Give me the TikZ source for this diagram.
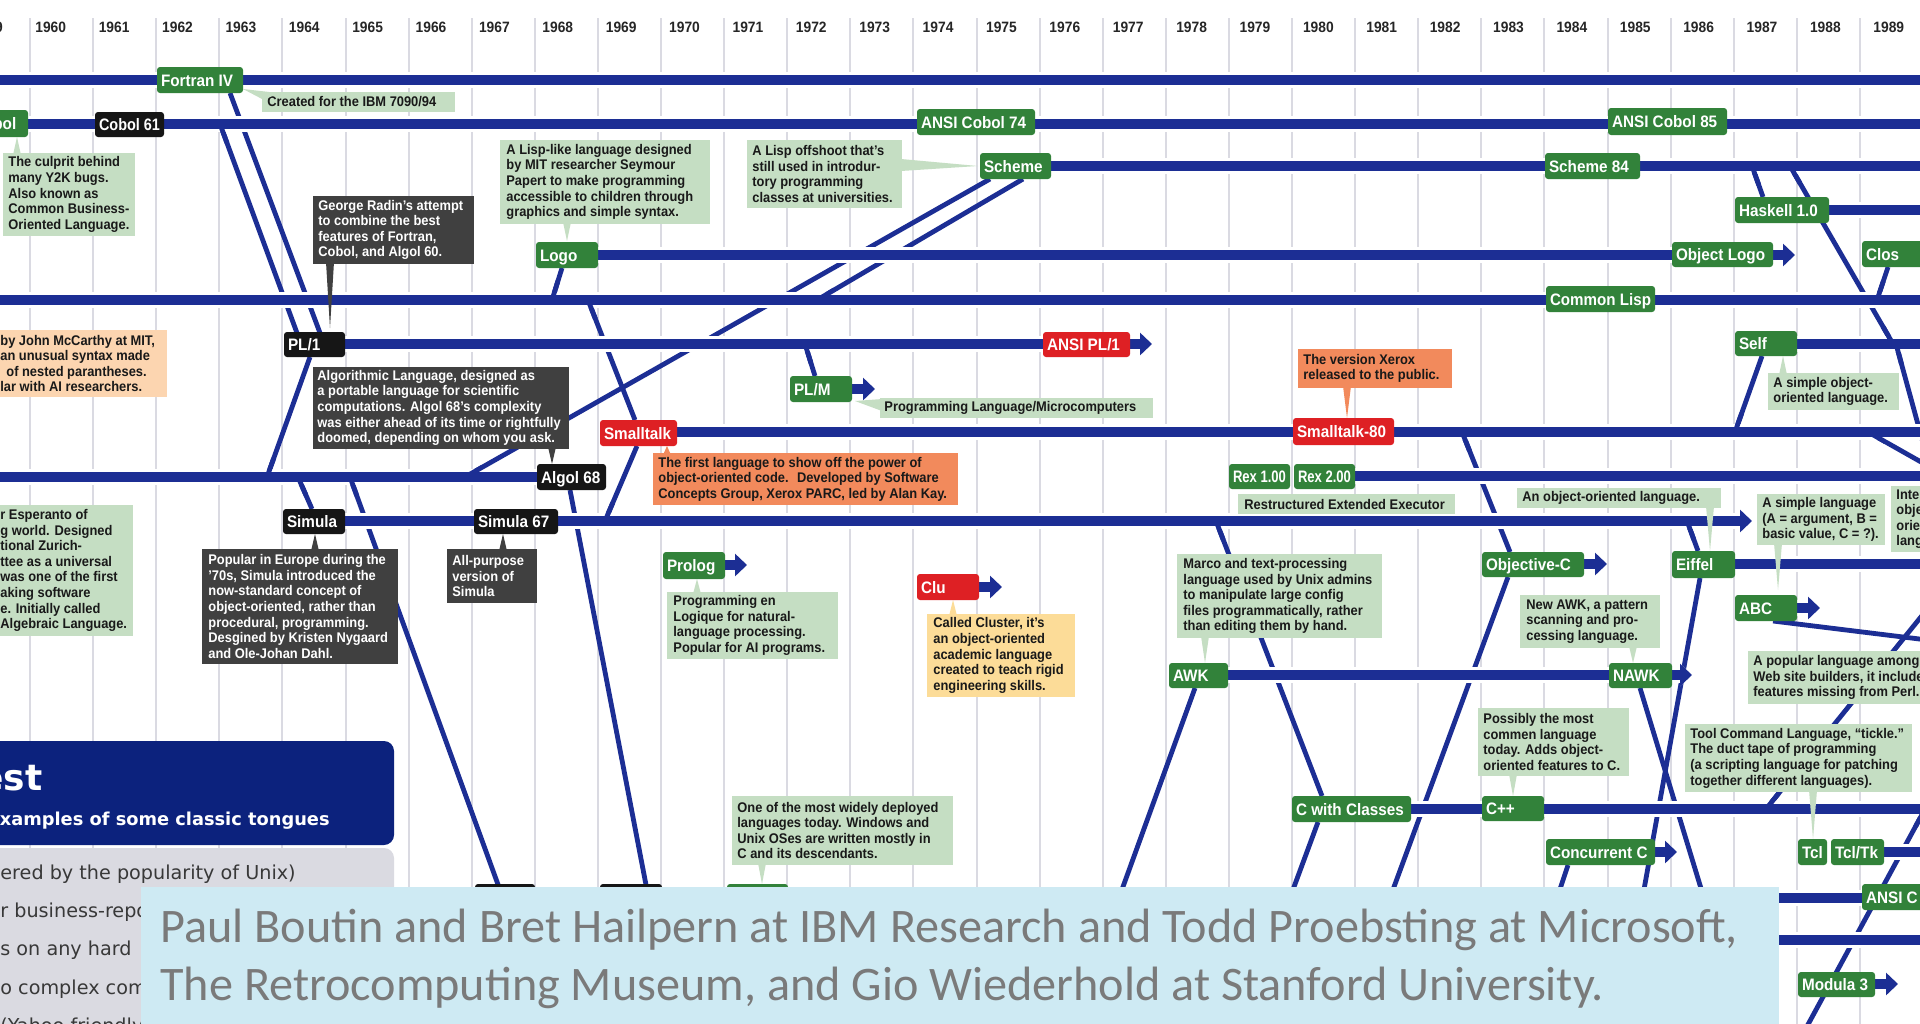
\documentclass[tikz,border=0pt]{standalone}
\usepackage{fontspec}
\setmainfont{Liberation Sans}
\newfontfamily\cond[FakeStretch=0.92]{Liberation Sans}
\newfontfamily\djv{DejaVu Sans}
\newfontfamily\capf{Carlito}
\usetikzlibrary{arrows.meta,calc}

\definecolor{lnc}{RGB}{28,46,148}
\definecolor{gbc}{RGB}{50,130,58}
\definecolor{kbc}{RGB}{22,22,22}
\definecolor{rbc}{RGB}{222,32,36}
\definecolor{ngc}{RGB}{197,222,195}
\definecolor{ndc}{RGB}{64,64,64}
\definecolor{noc}{RGB}{242,138,92}
\definecolor{npc}{RGB}{252,213,176}
\definecolor{nyc}{RGB}{252,220,152}
\definecolor{gridc}{RGB}{218,218,226}
\definecolor{capc}{RGB}{206,234,243}
\definecolor{captc}{RGB}{122,122,122}
\definecolor{ttlc}{RGB}{12,34,125}
\definecolor{panc}{RGB}{218,218,225}

\newcommand\lblf{\cond\bfseries\fontsize{8.3}{9}\selectfont}
\newcommand\ntf{\cond\bfseries\fontsize{7}{7.8}\selectfont}
\newcommand\yrf{\cond\bfseries\fontsize{7.5}{8}\selectfont}

% label box: style, name, x1, y1, x2, y2, text
\newcommand\LB[7]{%
 \pgfmathsetmacro\zzw{(#5-(#3))/2}%
 \pgfmathsetmacro\zzh{(#6-(#4))/2}%
 \pgfmathsetmacro\zzt{(#5-(#3)-8)/2}%
 \pgfmathsetmacro\zzx{(#3+#5)/2}%
 \pgfmathsetmacro\zzy{(#4+#6)/2}%
 \node[#1, minimum width=\zzw pt, minimum height=\zzh pt] (#2) at (\zzx,\zzy)
 {\sbox0{#7}\ifdim\wd0>\zzt pt\relax\resizebox{\zzt pt}{\height}{\usebox0}\else\makebox[\zzt pt][l]{\usebox0}\fi};}
% note: style, name, x1, y1, x2, y2, text x, text
\newcommand\NB[8]{%
 \pgfmathsetmacro\zzw{(#5-(#3))/2}%
 \pgfmathsetmacro\zzh{(#6-(#4))/2}%
 \pgfmathsetmacro\zzx{(#3+#5)/2}%
 \pgfmathsetmacro\zzy{(#4+#6)/2}%
 \node[#1, minimum width=\zzw pt, minimum height=\zzh pt] (#2) at (\zzx,\zzy) {};
 \node[#1 text, anchor=west, align=left, font=\ntf] (#2-t) at (#7,\zzy) {#8};}
% vertical pointer: colour, x, base y, tip y
\newcommand\VP[4]{\fill[#1] (#2-4,#3) -- (#2+4,#3) -- (#2,#4) -- cycle;}

\tikzset{
  every node/.style={inner sep=0pt},
  gridl/.style={draw=gridc, line width=1pt},
  yr/.style={font=\yrf, text=black!85, anchor=west},
  rowl/.style={draw=lnc, line width=5pt, preaction={draw=white, line width=8pt}},
  rowa/.style={rowl, -{Triangle[width=11pt,length=6pt]}},
  diag/.style={draw=lnc, line width=2.4pt},
  gb/.style={fill=gbc, text=white, font=\lblf, rounded corners=1.5pt, inner xsep=2pt, inner ysep=0pt, text height=6pt, text depth=0pt},
  kb/.style={gb, fill=kbc},
  rb/.style={gb, fill=rbc},
  ng/.style={fill=ngc}, ng text/.style={text=black!90},
  nd/.style={fill=ndc}, nd text/.style={text=white},
  no/.style={fill=noc}, no text/.style={text=black!90},
  np/.style={fill=npc}, np text/.style={text=black!90},
  ny/.style={fill=nyc}, ny text/.style={text=black!90},
  capt/.style={anchor=base west, font=\capf\fontsize{24.1}{28}\selectfont, text=captc},
  pant/.style={anchor=base west, font=\djv\fontsize{9.6}{11}\selectfont, text=black!78}
}

\begin{document}
\begin{tikzpicture}[x=0.5pt,y=-0.5pt]
\useasboundingbox (0,0) rectangle (1920,1023);
\clip (0,0) rectangle (1920,1023);
\fill[white] (0,0) rectangle (1920,1023);

% ---- year grid
\foreach \k in {-1,...,29}{
  \pgfmathsetmacro\gx{30+63.1*\k}
  \pgfmathsetmacro\lx{35+63.38*\k}
  \pgfmathtruncatemacro\yr{1960+\k}
  \coordinate (g\yr-top) at (\gx,18);
  \coordinate (g\yr-bot) at (\gx,1030);
  \draw[gridl] (g\yr-top) -- (g\yr-bot);
  \node[yr] (y\yr) at (\lx,27) {\yr};
}

% ---- diagonal connectors
\foreach \n/\xa/\ya/\xb/\yb in {
  d1/230/93/320/333, d2/220/124/297/333, d3/267/477/310/357, d4/298/477/312/509,
  d5/350/477/500/890, d6/570/490/647/890, d7/465/477/990/179, d8/817/300/1023/179,
  d9/552/300/562/268, d10/588/300/635/420, d11/605/521/637/446, d12/805/344/815/376,
  d13/1216/521/1322/796, d14/1120/895/1195/688, d15/1291/895/1318/822, d16/1508/577/1391/895,
  d17/1462/432/1510/552, d18/1735/432/1762/356, d19/1868/432/1960/484, d20/1752/166/1763/197,
  d21/1790/166/1893/344, d22/1888/267/1877/300, d23/1687/521/1698/551, d24/1700/578/1643/895,
  d25/1640/688/1703/895, d26/1773/621/1960/644, d27/1766/809/1941/592, d28/1925/809/1805/1030,
  d29/1558/895/1568/865, d30/1896/344/1940/505}
{
  \coordinate (\n-a) at (\xa,\ya);
  \coordinate (\n-b) at (\xb,\yb);
  \draw[diag] (\n-a) -- (\n-b);
}

% ---- rows (language lines)
\foreach \n/\xa/\yy/\xb in {
  fo/-10/80/1930, co/-10/124/1930, sc/1051/166/1930, ha/1829/210/1930,
  li/-10/300/1930, se/1797/344/1930, st/677/432/1930, al/-10/477/537,
  rx/1355/476/1930, ei/1735/564/1930, cp/1411/809/1930, tk/1884/852/1930,
  ac/1770/898/1862, rw/1770/940/1930}
{
  \coordinate (\n-s) at (\xa,\yy);
  \coordinate (\n-e) at (\xb,\yy);
  \draw[rowl] (\n-s) -- (\n-e);
}
\foreach \n/\xa/\yy/\xb in {
  lo/598/255/1795, pl/345/344/1152, pm/852/389/875, si/345/521/1752,
  pr/725/565/747, oc/1584/564/1607, cl/979/587/1002, ab/1797/608/1820,
  aw/1228/675/1692, cc/1655/852/1677, mo/1875/984/1898}
{
  \coordinate (\n-s) at (\xa,\yy);
  \coordinate (\n-e) at (\xb,\yy);
  \draw[rowa] (\n-s) -- (\n-e);
}

% ---- stubs joining diagonals to rows
\foreach \p/\q in {d2-a/d2-b, d3-a/d3-b, d4-a/d4-b, d5-a/d5-b, d7-a/d7-b, d8-a/d8-b,
  d9-a/d9-b, d10-a/d10-b, d11-a/d11-b, d12-a/d12-b, d13-a/d13-b, d17-a/d17-b,
  d18-a/d18-b, d19-a/d19-b, d20-a/d20-b, d21-a/d21-b, d21-b/d21-a, d22-b/d22-a,
  d23-a/d23-b, d27-a/d27-b, d28-a/d28-b, d30-a/d30-b}
{ \draw[diag] (\p) -- ($(\p)!10pt!(\q)$); }

% ---- notes
\NB{ng}{n-fortran}{262}{92}{455}{112}{267}{Created for the IBM 7090/94}
\NB{ng}{n-cobol}{3}{153}{135}{236}{8}{The culprit behind\\many Y2K bugs.\\Also known as\\Common Business-\\Oriented Language.}
\NB{nd}{n-radin}{313}{196}{474}{264}{318}{George Radin’s attempt\\to combine the best\\features of Fortran,\\Cobol, and Algol 60.}
\NB{ng}{n-logo}{500}{140}{710}{224}{506}{A Lisp-like language designed\\by MIT researcher Seymour\\Papert to make programming\\accessible to children through\\graphics and simple syntax.}
\NB{ng}{n-scheme}{747}{140}{902}{208}{752}{A Lisp offshoot that’s\\still used in introdur-\\tory programming\\classes at universities.}
\NB{np}{n-lisp}{-20}{330}{167}{397}{0}{by John McCarthy at MIT,\\an unusual syntax made\\\hspace*{3pt}of nested parantheses.\\lar with AI researchers.}
\NB{ng}{n-algolL}{-20}{505}{133}{636}{0}{r Esperanto of\\g world. Designed\\tional Zurich-\\ttee as a universal\\was one of the first\\aking software\\e. Initially called\\Algebraic Language.}
\NB{nd}{n-algol}{313}{367}{569}{449}{317}{Algorithmic Language, designed as\\a portable language for scientific\\computations. Algol 68’s complexity\\was either ahead of its time or rightfully\\doomed, depending on whom you ask.}
\NB{nd}{n-simula}{202}{549}{398}{664}{208}{Popular in Europe during the\\’70s, Simula introduced the\\now-standard concept of\\object-oriented, rather than\\procedural, programming.\\Desgined by Kristen Nygaard\\and Ole-Johan Dahl.}
\NB{nd}{n-sim67}{447}{549}{537}{603}{452}{All-purpose\\version of\\Simula}
\NB{ng}{n-plm}{880}{398}{1153}{418}{884}{Programming Language/Microcomputers}
\NB{no}{n-st}{653}{453}{958}{505}{658}{The first language to show off the power of\\object-oriented code.~ Developed by Software\\Concepts Group, Xerox PARC, led by Alan Kay.}
\NB{ng}{n-prolog}{667}{592}{838}{659}{673}{Programming en\\Logique for natural-\\language processing.\\Popular for AI programs.}
\NB{ny}{n-clu}{927}{614}{1075}{697}{933}{Called Cluster, it’s\\an object-oriented\\academic language\\created to teach rigid\\engineering skills.}
\NB{ng}{n-c}{732}{796}{953}{865}{737}{One of the most widely deployed\\languages today. Windows and\\Unix OSes are written mostly in\\C and its descendants.}
\NB{no}{n-st80}{1298}{349}{1452}{388}{1303}{The version Xerox\\released to the public.}
\NB{ng}{n-rex}{1238}{494}{1455}{514}{1244}{Restructured Extended Executor}
\NB{ng}{n-awk}{1177}{554}{1382}{638}{1183}{Marco and text-processing\\language used by Unix admins\\to manipulate large config\\files programmatically, rather\\than editing them by hand.}
\NB{ng}{n-self}{1768}{373}{1899}{410}{1773}{A simple object-\\oriented language.}
\NB{ng}{n-eiffel}{1517}{488}{1721}{508}{1522}{An object-oriented language.}
\NB{ng}{n-abc}{1757}{494}{1885}{545}{1762}{A simple language\\(A = argument, B =\\basic value, C = ?).}
\NB{ng}{n-nawk}{1520}{595}{1660}{648}{1526}{New AWK, a pattern\\scanning and pro-\\cessing language.}
\NB{ng}{n-perl}{1748}{651}{1940}{704}{1753}{A popular language among\\Web site builders, it includes\\features missing from Perl.}
\NB{ng}{n-py}{1891}{486}{1940}{552}{1896}{Interpreted\\object-\\oriented\\language.}
\NB{ng}{n-cpp}{1478}{708}{1629}{776}{1483}{Possibly the most\\commen language\\today. Adds object-\\oriented features to C.}
\NB{ng}{n-tcl}{1685}{724}{1912}{792}{1690}{Tool Command Language, “tickle.”\\The duct tape of programming\\(a scripting language for patching\\together different languages).}

% ---- pointers of the notes
\fill[ngc] (243,89) -- (278,93) -- (264,100) -- cycle;
\VP{ngc}{17}{155}{137}
\VP{ndc}{330}{262}{328}
\VP{ngc}{567}{222}{241}
\fill[ngc] (901,159) -- (901,171) -- (978,166) -- cycle;
\VP{ndc}{552}{447}{464}
\VP{ndc}{315}{551}{534}
\VP{ndc}{503}{551}{534}
\fill[ngc] (882,399) -- (882,411) -- (855,401) -- cycle;
\VP{noc}{667}{455}{446}
\VP{ngc}{697}{594}{579}
\VP{nyc}{953}{616}{600}
\VP{ngc}{762}{863}{884}
\VP{noc}{1347}{386}{418}
\VP{ngc}{1205}{636}{663}
\VP{ngc}{1783}{375}{356}
\VP{ngc}{1710}{506}{551}
\VP{ngc}{1778}{543}{590}
\VP{ngc}{1633}{646}{663}
\VP{ngc}{1513}{774}{796}
\VP{ngc}{1813}{790}{839}

% ---- language boxes
\LB{gb}{fortran}{157}{67}{243}{93}{Fortran IV}
\LB{gb}{cobol}{-31}{110}{28}{137}{Cobol}
\LB{kb}{cobol61}{95}{112}{164}{137}{Cobol 61}
\LB{gb}{cobol74}{917}{109}{1035}{135}{ANSI Cobol 74}
\LB{gb}{cobol85}{1608}{108}{1727}{135}{ANSI Cobol 85}
\LB{gb}{scheme}{980}{153}{1051}{179}{Scheme}
\LB{gb}{scheme84}{1545}{153}{1640}{179}{Scheme 84}
\LB{gb}{haskell}{1735}{197}{1829}{223}{Haskell 1.0}
\LB{gb}{logo}{536}{242}{598}{268}{Logo}
\LB{gb}{ologo}{1672}{242}{1773}{267}{Object Logo}
\LB{gb}{clos}{1862}{241}{1940}{267}{Clos}
\LB{gb}{clisp}{1546}{286}{1655}{312}{Common Lisp}
\LB{kb}{pl1}{284}{332}{345}{357}{PL/1}
\LB{rb}{apl1}{1043}{332}{1130}{357}{ANSI PL/1}
\LB{gb}{self}{1735}{331}{1797}{356}{Self}
\LB{gb}{plm}{790}{376}{852}{402}{PL/M}
\LB{rb}{smalltalk}{600}{420}{677}{446}{Smalltalk}
\LB{rb}{st80}{1293}{418}{1394}{445}{Smalltalk-80}
\LB{kb}{algol68}{537}{464}{606}{490}{Algol 68}
\LB{gb}{rex1}{1229}{464}{1290}{489}{Rex 1.00}
\LB{gb}{rex2}{1294}{464}{1355}{489}{Rex 2.00}
\LB{kb}{simula}{283}{509}{345}{534}{Simula}
\LB{kb}{simula67}{474}{509}{558}{534}{Simula 67}
\LB{gb}{prolog}{663}{552}{725}{579}{Prolog}
\LB{gb}{objc}{1482}{552}{1584}{577}{Objective-C}
\LB{gb}{eiffel}{1672}{551}{1735}{578}{Eiffel}
\LB{rb}{clu}{917}{574}{979}{600}{Clu}
\LB{gb}{abc}{1735}{595}{1797}{621}{ABC}
\LB{gb}{awk}{1169}{663}{1228}{688}{AWK}
\LB{gb}{nawk}{1609}{663}{1672}{688}{NAWK}
\LB{gb}{cwc}{1292}{796}{1411}{822}{C with Classes}
\LB{gb}{cpp}{1482}{796}{1544}{821}{C++}
\LB{gb}{concc}{1546}{839}{1655}{865}{Concurrent C}
\LB{gb}{tcl}{1798}{839}{1827}{865}{Tcl}
\LB{gb}{tcltk}{1831}{839}{1884}{865}{Tcl/Tk}
\LB{gb}{ansic}{1862}{884}{2010}{910}{ANSI C (C89)}
\LB{gb}{modula}{1798}{972}{1875}{997}{Modula 3}
\LB{kb}{bxa}{475}{884}{535}{930}{}
\LB{kb}{bxb}{600}{884}{662}{930}{}
\LB{gb}{bxc}{727}{884}{788}{930}{}

% ---- title block, lower left
\fill[ttlc, rounded corners=5pt] (-20,741) rectangle (394,845);
\node[anchor=base east, font=\djv\bfseries\fontsize{18}{20}\selectfont, text=white] (ttl) at (43,790) {est};
\node[anchor=base east, font=\djv\bfseries\fontsize{8.9}{10}\selectfont, text=white] (sub) at (330,825) {xamples of some classic tongues};
\fill[panc, rounded corners=5pt] (-20,848) rectangle (394,1060);
\node[pant] (p1) at (0,879) {ered by the popularity of Unix)};
\node[pant] (p2) at (0,917) {r business-repo};
\node[pant] (p3) at (0,955) {s on any hard};
\node[pant] (p4) at (0,994) {o complex com};
\node[pant] (p5) at (0,1032) {(Yahoo friendly, li};

% ---- caption
\fill[capc] (141,887) rectangle (1779,1035);
\node[capt] (cap1) at (160,942) {Paul Boutin and Bret Hailpern at IBM Research and Todd Proebsting at Microsoft,};
\node[capt] (cap2) at (160,1000) {The Retrocomputing Museum, and Gio Wiederhold at Stanford University.};
\end{tikzpicture}
\end{document}
